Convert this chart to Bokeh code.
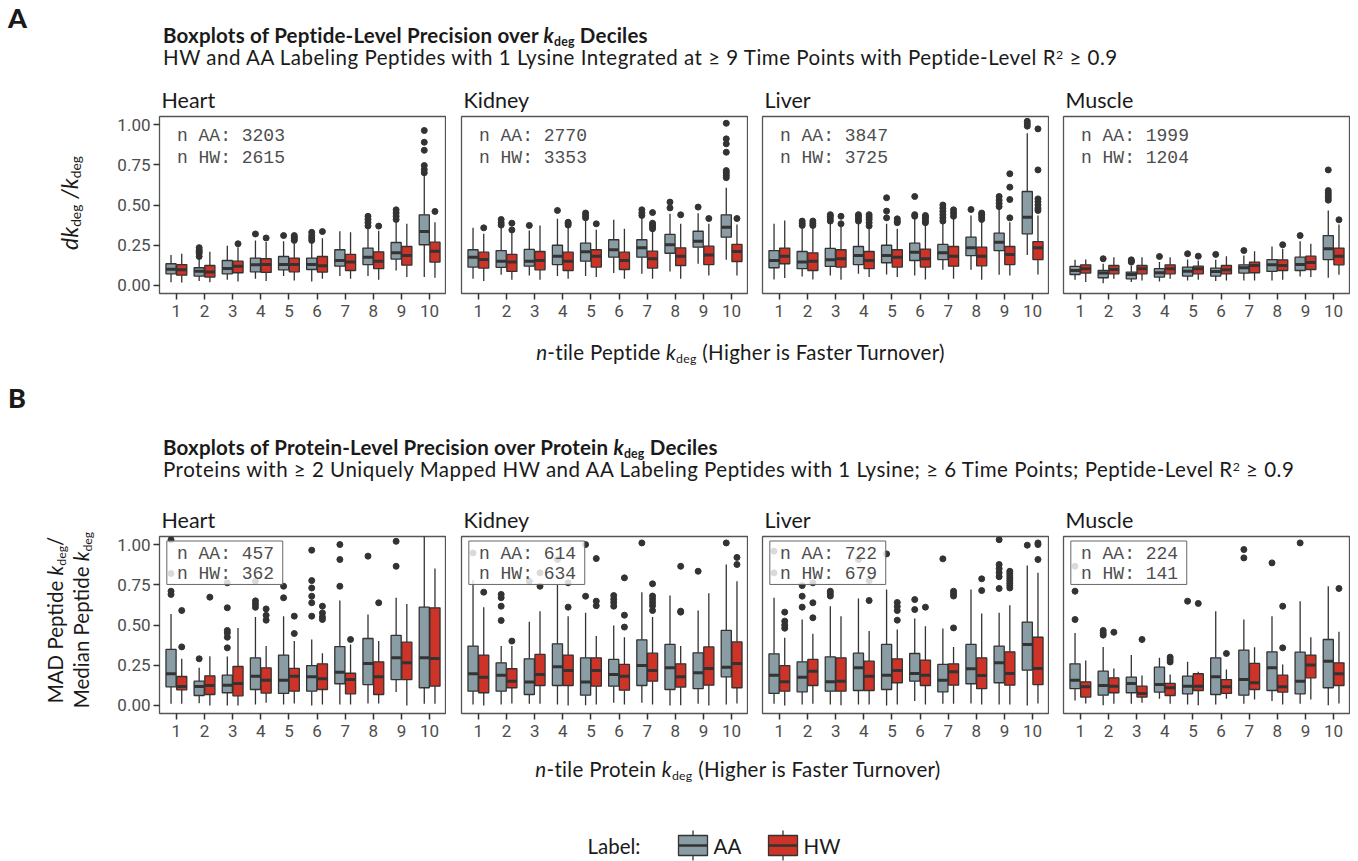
from bokeh.plotting import figure
from bokeh.models import Range1d, FixedTicker, ColumnDataSource, Div, PrintfTickFormatter
from bokeh.layouts import column, row
from bokeh.embed import file_html
from bokeh.resources import INLINE
from bokeh.core.properties import value

# ---------------------------------------------------------------- data
DECILES = list(range(1, 11))
TISSUES = ["Heart", "Kidney", "Liver", "Muscle"]
LABELS = ["AA", "HW"]
Y_TICKS = [0.0, 0.25, 0.5, 0.75, 1.0]

PEP_COUNTS = {"Heart": (3203, 2615), "Kidney": (2770, 3353), "Liver": (3847, 3725), "Muscle": (1999, 1204)}
PROT_COUNTS = {"Heart": (457, 362), "Kidney": (614, 634), "Liver": (722, 679), "Muscle": (224, 141)}

# Peptide-level dk/k box statistics per kdeg decile
PEP_HEART_AA = dict(
    lower=[0.020, 0.027, 0.035, 0.041, 0.058, 0.025, 0.058, 0.058, 0.093, 0.052],
    q1=[0.072, 0.058, 0.072, 0.085, 0.097, 0.099, 0.120, 0.130, 0.164, 0.253],
    median=[0.100, 0.089, 0.106, 0.128, 0.130, 0.130, 0.155, 0.176, 0.203, 0.335],
    q3=[0.135, 0.110, 0.155, 0.170, 0.180, 0.170, 0.222, 0.232, 0.267, 0.439],
    upper=[0.190, 0.166, 0.246, 0.280, 0.275, 0.265, 0.337, 0.360, 0.390, 0.694])
PEP_HEART_AA_OUT = [[], [0.18, 0.20, 0.21, 0.22, 0.235], [], [0.32], [0.31], [0.28, 0.295, 0.31, 0.33],
                    [], [0.37, 0.39, 0.41, 0.43], [0.41, 0.43, 0.45, 0.47], [0.70, 0.72, 0.745, 0.84, 0.89, 0.963]]
PEP_HEART_HW = dict(
    lower=[0.019, 0.020, 0.025, 0.027, 0.031, 0.041, 0.041, 0.035, 0.052, 0.048],
    q1=[0.064, 0.052, 0.079, 0.081, 0.085, 0.083, 0.093, 0.104, 0.126, 0.145],
    median=[0.097, 0.083, 0.120, 0.130, 0.130, 0.122, 0.145, 0.151, 0.186, 0.213],
    q3=[0.130, 0.124, 0.151, 0.166, 0.170, 0.180, 0.193, 0.209, 0.242, 0.269],
    upper=[0.197, 0.210, 0.238, 0.270, 0.260, 0.294, 0.330, 0.340, 0.383, 0.393])
PEP_HEART_HW_OUT = [[], [], [0.259], [0.295], [0.28, 0.29, 0.30, 0.31], [0.335], [], [0.369], [], [0.46]]

PEP_KIDNEY_AA = dict(
    lower=[0.041, 0.066, 0.062, 0.058, 0.058, 0.077, 0.072, 0.087, 0.135, 0.159],
    q1=[0.114, 0.112, 0.120, 0.130, 0.151, 0.176, 0.176, 0.200, 0.238, 0.300],
    median=[0.176, 0.151, 0.151, 0.182, 0.209, 0.222, 0.234, 0.253, 0.275, 0.362],
    q3=[0.222, 0.217, 0.224, 0.250, 0.263, 0.284, 0.284, 0.317, 0.337, 0.439],
    upper=[0.358, 0.360, 0.342, 0.414, 0.400, 0.408, 0.420, 0.445, 0.449, 0.607])
PEP_KIDNEY_AA_OUT = [[], [0.375, 0.39, 0.41], [0.373], [0.466], [0.42, 0.435, 0.45], [], [0.435, 0.45, 0.47],
                     [0.482, 0.518], [0.487], [0.67, 0.685, 0.70, 0.714, 0.828, 0.88, 0.911, 1.008]]
PEP_KIDNEY_HW = dict(
    lower=[0.027, 0.035, 0.035, 0.041, 0.052, 0.041, 0.041, 0.041, 0.062, 0.062],
    q1=[0.108, 0.087, 0.097, 0.093, 0.114, 0.099, 0.108, 0.124, 0.130, 0.149],
    median=[0.161, 0.145, 0.155, 0.151, 0.182, 0.155, 0.166, 0.182, 0.190, 0.211],
    q3=[0.207, 0.193, 0.211, 0.207, 0.222, 0.207, 0.213, 0.234, 0.244, 0.255],
    upper=[0.321, 0.331, 0.373, 0.360, 0.346, 0.352, 0.342, 0.383, 0.383, 0.379])
PEP_KIDNEY_HW_OUT = [[0.358], [0.345, 0.387], [], [0.375, 0.385, 0.393], [0.383], [],
                     [0.352, 0.365, 0.375, 0.387, 0.453], [0.439], [0.416], [0.416]]

PEP_LIVER_AA = dict(
    lower=[0.037, 0.056, 0.062, 0.072, 0.068, 0.062, 0.097, 0.097, 0.066, 0.190],
    q1=[0.110, 0.104, 0.118, 0.130, 0.141, 0.155, 0.161, 0.186, 0.217, 0.321],
    median=[0.155, 0.145, 0.159, 0.186, 0.186, 0.207, 0.203, 0.234, 0.269, 0.424],
    q3=[0.217, 0.211, 0.230, 0.242, 0.250, 0.263, 0.255, 0.300, 0.325, 0.584],
    upper=[0.383, 0.352, 0.390, 0.383, 0.383, 0.420, 0.383, 0.435, 0.480, 0.946])
PEP_LIVER_AA_OUT = [[], [0.373, 0.385, 0.40], [0.40, 0.415, 0.43, 0.44], [0.40, 0.415, 0.43, 0.44],
                    [0.42, 0.462, 0.545], [0.43, 0.44, 0.553], [0.40, 0.42, 0.44, 0.46, 0.48, 0.50],
                    [0.472], [0.49, 0.51, 0.53, 0.553], [0.99, 1.005, 1.02]]
PEP_LIVER_HW = dict(
    lower=[0.046, 0.037, 0.035, 0.052, 0.052, 0.037, 0.041, 0.035, 0.062, 0.068],
    q1=[0.135, 0.093, 0.114, 0.104, 0.114, 0.114, 0.120, 0.122, 0.130, 0.161],
    median=[0.182, 0.151, 0.166, 0.155, 0.176, 0.166, 0.182, 0.182, 0.193, 0.234],
    q3=[0.232, 0.203, 0.222, 0.211, 0.222, 0.226, 0.242, 0.238, 0.242, 0.273],
    upper=[0.404, 0.362, 0.383, 0.362, 0.352, 0.380, 0.414, 0.404, 0.393, 0.435])
PEP_LIVER_HW_OUT = [[], [0.373, 0.385, 0.40], [0.383, 0.43], [0.37, 0.39, 0.41, 0.425, 0.44],
                    [0.39, 0.40, 0.414], [0.39, 0.40, 0.415, 0.425, 0.435], [0.43, 0.45, 0.47],
                    [0.41, 0.425, 0.44, 0.45], [0.42, 0.534, 0.611, 0.694],
                    [0.466, 0.48, 0.50, 0.52, 0.538, 0.718, 0.973]]

PEP_MUSCLE_AA = dict(
    lower=[0.035, 0.014, 0.021, 0.025, 0.031, 0.027, 0.031, 0.031, 0.056, 0.048],
    q1=[0.068, 0.048, 0.041, 0.052, 0.058, 0.058, 0.077, 0.087, 0.093, 0.161],
    median=[0.093, 0.077, 0.068, 0.079, 0.089, 0.087, 0.110, 0.128, 0.130, 0.228],
    q3=[0.118, 0.093, 0.083, 0.104, 0.114, 0.108, 0.128, 0.161, 0.176, 0.310],
    upper=[0.159, 0.135, 0.124, 0.145, 0.161, 0.159, 0.186, 0.242, 0.275, 0.466])
PEP_MUSCLE_AA_OUT = [[], [0.166], [0.145, 0.152, 0.159], [0.18], [0.197], [0.193], [0.217], [], [0.31],
                     [0.53, 0.545, 0.56, 0.575, 0.59, 0.718]]
PEP_MUSCLE_HW = dict(
    lower=[0.021, 0.041, 0.031, 0.041, 0.035, 0.031, 0.031, 0.035, 0.052, 0.066],
    q1=[0.077, 0.072, 0.072, 0.072, 0.072, 0.072, 0.079, 0.093, 0.099, 0.128],
    median=[0.104, 0.099, 0.104, 0.104, 0.104, 0.097, 0.124, 0.124, 0.143, 0.182],
    q3=[0.128, 0.124, 0.124, 0.128, 0.120, 0.124, 0.145, 0.159, 0.182, 0.232],
    upper=[0.161, 0.176, 0.176, 0.176, 0.155, 0.182, 0.213, 0.228, 0.259, 0.379])
PEP_MUSCLE_HW_OUT = [[], [], [], [], [0.182], [], [], [0.253], [], [0.408]]

# Protein-level MAD / median box statistics per protein kdeg decile
PROT_HEART_AA = dict(
    lower=[0.010, 0.014, 0.000, 0.006, 0.006, 0.000, 0.006, 0.012, 0.083, 0.010],
    q1=[0.116, 0.062, 0.079, 0.099, 0.075, 0.089, 0.135, 0.130, 0.161, 0.110],
    median=[0.197, 0.118, 0.126, 0.182, 0.157, 0.178, 0.207, 0.261, 0.296, 0.296],
    q3=[0.348, 0.151, 0.188, 0.296, 0.313, 0.248, 0.366, 0.416, 0.435, 0.611],
    upper=[0.569, 0.234, 0.304, 0.549, 0.555, 0.410, 0.652, 0.565, 0.669, 1.200])
PROT_HEART_AA_OUT = [[0.69, 0.71, 0.82, 1.03], [0.29], [0.358, 0.424, 0.451, 0.466, 0.607, 0.762],
                     [0.61, 0.63, 0.65, 0.772], [0.669, 0.741], [0.555, 0.638, 0.679, 0.73, 0.776, 0.965],
                     [0.741, 0.907, 1.0], [0.928], [0.865, 1.02], []]
PROT_HEART_HW = dict(
    lower=[0.010, 0.000, 0.000, 0.017, 0.012, 0.006, 0.006, 0.012, 0.000, 0.010],
    q1=[0.097, 0.068, 0.060, 0.077, 0.089, 0.099, 0.072, 0.068, 0.161, 0.120],
    median=[0.118, 0.124, 0.137, 0.157, 0.182, 0.166, 0.161, 0.178, 0.265, 0.292],
    q3=[0.180, 0.184, 0.242, 0.234, 0.230, 0.259, 0.200, 0.271, 0.393, 0.607],
    upper=[0.290, 0.306, 0.482, 0.369, 0.400, 0.325, 0.379, 0.400, 0.631, 0.851])
PROT_HEART_HW_OUT = [[0.364, 0.59], [0.673], [], [0.53, 0.56, 0.60], [0.447, 0.555],
                     [0.534, 0.55, 0.575, 0.617], [0.41], [0.638], [], []]

PROT_KIDNEY_AA = dict(
    lower=[0.006, 0.006, 0.010, 0.006, 0.002, 0.017, 0.017, 0.000, 0.010, 0.006],
    q1=[0.089, 0.089, 0.068, 0.124, 0.064, 0.120, 0.124, 0.099, 0.104, 0.178],
    median=[0.197, 0.188, 0.145, 0.240, 0.145, 0.193, 0.248, 0.234, 0.203, 0.238],
    q3=[0.369, 0.265, 0.290, 0.383, 0.296, 0.286, 0.408, 0.379, 0.327, 0.466],
    upper=[0.780, 0.369, 0.520, 0.750, 0.576, 0.497, 0.704, 0.683, 0.590, 0.876])
PROT_KIDNEY_AA_OUT = [[0.948], [0.528, 0.617, 0.67, 0.69], [0.772], [0.907], [0.679, 1.0],
                      [0.617, 0.64, 0.66, 0.683], [1.01], [], [0.834], [1.01]]
PROT_KIDNEY_HW = dict(
    lower=[0.000, 0.012, 0.010, 0.000, 0.006, 0.006, 0.006, 0.002, 0.000, 0.012],
    q1=[0.079, 0.110, 0.124, 0.124, 0.120, 0.095, 0.151, 0.114, 0.126, 0.110],
    median=[0.176, 0.151, 0.193, 0.217, 0.217, 0.182, 0.217, 0.178, 0.230, 0.261],
    q3=[0.313, 0.228, 0.317, 0.313, 0.296, 0.255, 0.325, 0.259, 0.364, 0.395],
    upper=[0.611, 0.369, 0.586, 0.555, 0.431, 0.424, 0.549, 0.369, 0.698, 0.772])
PROT_KIDNEY_HW_OUT = [[0.704], [0.40], [0.741, 0.824], [0.611, 0.762], [0.62, 0.648, 0.913],
                      [0.487, 0.561, 0.793], [0.59, 0.62, 0.64, 0.66, 0.68, 0.756], [0.58, 0.586, 0.865],
                      [], [0.876, 0.92]]

PROT_LIVER_AA = dict(
    lower=[0.010, 0.006, 0.006, 0.006, 0.000, 0.027, 0.010, 0.012, 0.006, 0.000],
    q1=[0.075, 0.085, 0.089, 0.093, 0.099, 0.151, 0.085, 0.135, 0.141, 0.219],
    median=[0.188, 0.176, 0.147, 0.234, 0.188, 0.199, 0.157, 0.228, 0.265, 0.379],
    q3=[0.321, 0.271, 0.302, 0.325, 0.379, 0.323, 0.255, 0.379, 0.369, 0.518],
    upper=[0.669, 0.534, 0.617, 0.665, 0.720, 0.540, 0.478, 0.720, 0.576, 0.870])
PROT_LIVER_AA_OUT = [[0.824, 0.959], [0.611, 0.679, 0.745], [0.68, 0.695, 0.71], [0.907], [0.942],
                     [0.596, 0.658], [0.911], [], [0.727, 0.80, 0.825, 0.85, 0.876, 1.03], [0.996]]
PROT_LIVER_HW = dict(
    lower=[0.000, 0.010, 0.002, 0.006, 0.006, 0.006, 0.010, 0.006, 0.006, 0.012],
    q1=[0.089, 0.124, 0.089, 0.093, 0.141, 0.124, 0.126, 0.104, 0.126, 0.130],
    median=[0.147, 0.213, 0.151, 0.182, 0.217, 0.188, 0.209, 0.186, 0.199, 0.230],
    q3=[0.248, 0.286, 0.296, 0.275, 0.290, 0.282, 0.259, 0.296, 0.333, 0.424],
    upper=[0.420, 0.445, 0.555, 0.462, 0.472, 0.493, 0.364, 0.571, 0.623, 0.824])
PROT_LIVER_HW_OUT = [[0.48, 0.50, 0.524, 0.58], [0.545, 0.638, 0.762], [], [0.652, 0.776],
                     [0.53, 0.59, 0.615, 0.64], [0.611], [0.482, 0.68, 0.695, 0.71], [0.714, 0.787],
                     [0.73, 0.745, 0.76, 0.775, 0.79, 0.805, 0.82, 0.834], [0.907, 1.0, 1.01]]

PROT_MUSCLE_AA = dict(
    lower=[0.031, 0.002, 0.010, 0.041, 0.006, 0.006, 0.010, 0.027, 0.010, 0.002],
    q1=[0.104, 0.064, 0.079, 0.083, 0.072, 0.068, 0.064, 0.093, 0.072, 0.110],
    median=[0.157, 0.124, 0.137, 0.130, 0.120, 0.178, 0.161, 0.234, 0.151, 0.275],
    q3=[0.259, 0.213, 0.176, 0.238, 0.182, 0.296, 0.344, 0.333, 0.331, 0.410],
    upper=[0.451, 0.364, 0.313, 0.296, 0.271, 0.586, 0.534, 0.555, 0.648, 0.741])
PROT_MUSCLE_AA_OUT = [[0.534, 0.71, 0.865], [0.437, 0.45, 0.466], [], [], [0.648], [], [0.917, 0.969],
                      [0.886], [1.01], []]
PROT_MUSCLE_HW = dict(
    lower=[0.012, 0.010, 0.017, 0.010, 0.002, 0.041, 0.037, 0.006, 0.037, 0.012],
    q1=[0.052, 0.079, 0.052, 0.062, 0.093, 0.075, 0.099, 0.083, 0.172, 0.124],
    median=[0.116, 0.120, 0.075, 0.110, 0.120, 0.116, 0.141, 0.116, 0.251, 0.197],
    q3=[0.147, 0.172, 0.120, 0.137, 0.197, 0.161, 0.261, 0.188, 0.313, 0.265],
    upper=[0.280, 0.230, 0.186, 0.193, 0.209, 0.224, 0.362, 0.255, 0.424, 0.458])
PROT_MUSCLE_HW_OUT = [[], [0.455], [0.41], [0.27, 0.285, 0.30], [0.634], [0.323], [], [0.358, 0.617], [],
                      [0.727]]

PEPTIDE = {
    "Heart": ((PEP_HEART_AA, PEP_HEART_AA_OUT), (PEP_HEART_HW, PEP_HEART_HW_OUT)),
    "Kidney": ((PEP_KIDNEY_AA, PEP_KIDNEY_AA_OUT), (PEP_KIDNEY_HW, PEP_KIDNEY_HW_OUT)),
    "Liver": ((PEP_LIVER_AA, PEP_LIVER_AA_OUT), (PEP_LIVER_HW, PEP_LIVER_HW_OUT)),
    "Muscle": ((PEP_MUSCLE_AA, PEP_MUSCLE_AA_OUT), (PEP_MUSCLE_HW, PEP_MUSCLE_HW_OUT)),
}
PROTEIN = {
    "Heart": ((PROT_HEART_AA, PROT_HEART_AA_OUT), (PROT_HEART_HW, PROT_HEART_HW_OUT)),
    "Kidney": ((PROT_KIDNEY_AA, PROT_KIDNEY_AA_OUT), (PROT_KIDNEY_HW, PROT_KIDNEY_HW_OUT)),
    "Liver": ((PROT_LIVER_AA, PROT_LIVER_AA_OUT), (PROT_LIVER_HW, PROT_LIVER_HW_OUT)),
    "Muscle": ((PROT_MUSCLE_AA, PROT_MUSCLE_AA_OUT), (PROT_MUSCLE_HW, PROT_MUSCLE_HW_OUT)),
}

# ---------------------------------------------------------------- style
AA_COLOR = "#8A9CA4"
HW_COLOR = "#CD3427"
INK = "#333333"
GREY_TEXT = "#4D4D4D"
TEXT = "#1A1A1A"
SANS = "Lato"
MONO = "Liberation Mono"
DODGE = 0.19
BOX_W = 0.36
FRAME_W, FRAME_H = 287, 177
BORDER_TOP, BORDER_BOTTOM = 36, 37
BORDERS_LEFT = [59, 15, 14, 14]
PAGE_W = 1358


def make_panel(tissue, groups, counts, boxed, first, border_left):
    p = figure(frame_width=FRAME_W, frame_height=FRAME_H,
               x_range=Range1d(0.4, 10.6), y_range=Range1d(-0.05, 1.05),
               output_backend="svg", toolbar_location=None, tools="", title=tissue,
               y_axis_location="left" if first else None,
               min_border_left=border_left, min_border_right=0,
               min_border_top=BORDER_TOP, min_border_bottom=BORDER_BOTTOM)
    p.background_fill_color = "white"
    p.border_fill_color = "white"
    p.outline_line_color = "#555555"
    p.outline_line_width = 1.3
    p.xgrid.visible = False
    p.ygrid.visible = False

    t = p.title
    t.text_font = SANS
    t.text_font_size = "21.5px"
    t.text_font_style = "normal"
    t.text_color = TEXT
    t.align = "left"
    t.offset = 2
    t.standoff = 8

    axes = [p.xaxis[0]] + ([p.yaxis[0]] if first else [])
    for ax in axes:
        ax.axis_line_color = None
        ax.major_tick_line_color = INK
        ax.major_tick_line_width = 1.5
        ax.major_tick_out = 6
        ax.major_tick_in = 0
        ax.minor_tick_line_color = None
        ax.major_label_text_font = "Roboto"
        ax.major_label_text_font_size = "17px"
        ax.major_label_text_color = GREY_TEXT
    p.xaxis.ticker = FixedTicker(ticks=DECILES)
    p.xaxis.major_label_standoff = 5
    if first:
        p.yaxis.ticker = FixedTicker(ticks=Y_TICKS)
        p.yaxis.formatter = PrintfTickFormatter(format="%.2f")
        p.yaxis.major_label_standoff = 3

    for (stats, outs), offset, color in zip(groups, (-DODGE, DODGE), (AA_COLOR, HW_COLOR)):
        xs = [d + offset for d in DECILES]
        src = ColumnDataSource(dict(x=xs,
                                    left=[x - BOX_W / 2 for x in xs],
                                    right=[x + BOX_W / 2 for x in xs],
                                    **stats))
        ox = [d + offset for d, pts in zip(DECILES, outs) for _ in pts]
        oy = [v for pts in outs for v in pts]
        p.scatter(ox, oy, size=6, color=INK)
        p.segment("x", "q3", "x", "upper", source=src, line_color=INK, line_width=1.3)
        p.segment("x", "lower", "x", "q1", source=src, line_color=INK, line_width=1.3)
        p.quad(left="left", right="right", bottom="q1", top="q3", source=src,
               fill_color=color, line_color=INK, line_width=1.3)
        p.segment("left", "median", "right", "median", source=src, line_color=INK, line_width=3)

    n_aa, n_hw = counts
    if boxed:
        p.quad(left=[0.66], right=[4.78], top=[1.022], bottom=[0.752],
               fill_color="white", fill_alpha=0.82, line_color="#666666", line_width=1)
        ys = [0.94, 0.816]
    else:
        ys = [0.93, 0.795]
    p.text(x=[1.02, 1.02], y=ys, text=[f"n AA: {n_aa}", f"n HW: {n_hw}"],
           text_font=value(MONO), text_font_size="18px",
           text_baseline="middle", text_align="left", text_color=GREY_TEXT)
    return p


def html_div(html, width, height):
    return Div(text=html, width=width, height=height, margin=(0, 0, 0, 0))


def header(letter, title, subtitle, height, letter_top, title_top, sub_top):
    html = (
        f'<div style="position:relative;width:{PAGE_W}px;height:{height}px;font-family:{SANS},sans-serif;color:{TEXT};">'
        f'<div style="position:absolute;left:8px;top:{letter_top}px;font-size:27px;font-weight:900;line-height:1;">{letter}</div>'
        f'<div style="position:absolute;left:163px;top:{title_top}px;font-size:20.5px;font-weight:bold;'
        f'letter-spacing:0.2px;line-height:1;white-space:nowrap;">{title}</div>'
        f'<div style="position:absolute;left:163px;top:{sub_top}px;font-size:20.5px;letter-spacing:0.5px;'
        f'line-height:1;white-space:nowrap;">{subtitle}</div>'
        '</div>')
    return html_div(html, PAGE_W, height)


SUB = '<span style="font-size:0.6em;position:relative;top:0.25em;">deg</span>'
SUP2 = '<span style="font-size:0.6em;position:relative;top:-0.45em;">2</span>'
KDEG = f'<i>k</i>{SUB}'


def y_title(inner, height, cx, cy, size):
    html = (
        f'<div style="position:relative;width:100px;height:{height}px;font-family:{SANS},sans-serif;color:{TEXT};">'
        f'<div style="position:absolute;left:{cx}px;top:{cy}px;transform:translate(-50%,-50%) rotate(-90deg);'
        f'font-size:{size}px;line-height:23px;white-space:nowrap;text-align:center;">{inner}</div></div>')
    return html_div(html, 100, height)


def x_title(inner, height, top, left, width):
    html = (
        f'<div style="position:relative;width:{PAGE_W}px;height:{height}px;font-family:{SANS},sans-serif;color:{TEXT};">'
        f'<div style="position:absolute;left:{left}px;width:{width}px;top:{top}px;text-align:center;font-size:20.5px;'
        f'letter-spacing:0.3px;line-height:1;white-space:nowrap;">{inner}</div></div>')
    return html_div(html, PAGE_W, height)


def panel_row(data, counts, boxed, ylab):
    figs = [make_panel(t, data[t], counts[t], boxed, i == 0, BORDERS_LEFT[i]) for i, t in enumerate(TISSUES)]
    return row([ylab] + figs, spacing=0)


ROW_H = BORDER_TOP + FRAME_H + BORDER_BOTTOM

# ---------------------------------------------------------------- panel A
head_a = header("A", f"Boxplots of Peptide-Level Precision over {KDEG} Deciles",
                f"HW and AA Labeling Peptides with 1 Lysine Integrated at ≥ 9 Time Points with Peptide-Level R{SUP2} ≥ 0.9",
                80, 4, 25, 47)
ylab_a = y_title(f'<i>dk</i>{SUB} <i>/k</i>{SUB}', ROW_H, 71, 123, 23)
row_a = panel_row(PEPTIDE, PEP_COUNTS, False, ylab_a)
xlab_a = x_title(f'<i>n</i>-tile Peptide {KDEG} (Higher is Faster Turnover)', 50, 12, 131, 1219)

# ---------------------------------------------------------------- panel B
head_b = header("B", f"Boxplots of Protein-Level Precision over Protein {KDEG} Deciles",
                f"Proteins with ≥ 2 Uniquely Mapped HW and AA Labeling Peptides with 1 Lysine; ≥ 6 Time Points; Peptide-Level R{SUP2} ≥ 0.9",
                120, 4, 57, 79)
ylab_b = y_title(f'MAD Peptide {KDEG}/<br>Median Peptide {KDEG}', ROW_H, 70, 120, 20.5)
row_b = panel_row(PROTEIN, PROT_COUNTS, True, ylab_b)
xlab_b = x_title(f'<i>n</i>-tile Protein {KDEG} (Higher is Faster Turnover)', 50, 9, 125, 1226)

# ---------------------------------------------------------------- legend
leg = figure(width=PAGE_W, height=61, x_range=Range1d(0, PAGE_W), y_range=Range1d(61, 0),
             output_backend="svg", toolbar_location=None, tools="",
             x_axis_location=None, y_axis_location=None, min_border=0)
leg.outline_line_color = None
leg.background_fill_color = "white"
leg.border_fill_color = "white"
leg.xgrid.visible = False
leg.ygrid.visible = False
leg.text(x=[587], y=[45], text=["Label:"], text_font=value(SANS), text_font_size="20.5px",
         text_baseline="middle", text_color=TEXT)
for lab, color, left in zip(LABELS, (AA_COLOR, HW_COLOR), (678, 768)):
    mid = left + 14.5
    leg.segment(x0=[mid, mid], y0=[30, 55], x1=[mid, mid], y1=[35, 60], line_color=INK, line_width=1.3)
    leg.quad(left=[left], right=[left + 29], top=[35], bottom=[55], fill_color=color,
             line_color=INK, line_width=1.3)
    leg.segment(x0=[left], y0=[45], x1=[left + 29], y1=[45], line_color=INK, line_width=2.5)
    leg.text(x=[left + 35], y=[45], text=[lab], text_font=value(SANS), text_font_size="20.5px",
             text_baseline="middle", text_color=TEXT)

page = column([head_a, row_a, xlab_a, head_b, row_b, xlab_b, leg], spacing=0)

with open("out.html", "w", encoding="utf-8") as fh:
    fh.write(file_html(page, INLINE))
